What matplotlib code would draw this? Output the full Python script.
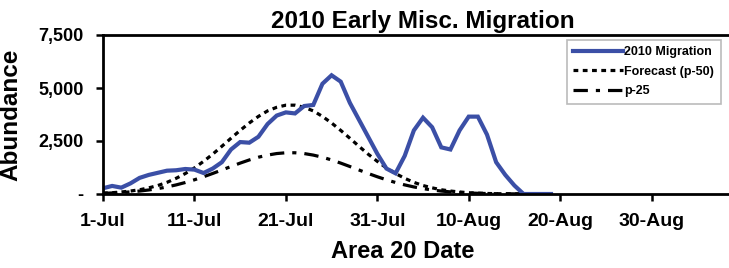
import numpy as np
import matplotlib
matplotlib.use("Agg")
from matplotlib import pyplot as plt

plt.rcParams['font.family'] = ['Liberation Sans', 'DejaVu Sans']
plt.rcParams['font.weight'] = 'bold'

# days since 1-Jul
days = list(range(0, 50))

migration_2010 = [270, 380, 300, 500, 760, 900, 1000, 1100, 1120, 1180,
                  1150, 990, 1200, 1500, 2100, 2450, 2420, 2700, 3300, 3700,
                  3850, 3800, 4150, 4200, 5200, 5600, 5300, 4300, 3500, 2700,
                  1900, 1200, 975, 1800, 3000, 3600, 3150, 2200, 2100, 3000,
                  3650, 3650, 2800, 1500, 900, 400, 0, 0, 0, 0]

forecast_p50 = [40, 60, 95, 140, 200, 290, 400, 550, 740, 965,
                1230, 1540, 1880, 2250, 2630, 3000, 3350, 3660, 3920, 4090,
                4190, 4190, 4090, 3920, 3660, 3350, 3000, 2630, 2250, 1880,
                1540, 1230, 965, 740, 550, 400, 290, 200, 140, 95,
                60, 40, 25, 15, 9, 5, 3, 2, 1, 0]

forecast_p25 = [33, 49, 70, 100, 139, 190, 254, 333, 429, 542,
                670, 814, 969, 1132, 1297, 1457, 1606, 1735, 1835, 1908,
                1945, 1945, 1908, 1835, 1735, 1606, 1457, 1297, 1132, 969,
                814, 670, 542, 429, 333, 254, 190, 139, 100, 70,
                49, 33, 22, 14, 9, 6, 4, 2, 1, 1]

xtick_pos = [0, 10, 20, 30, 40, 50, 60]
xtick_labels = ['1-Jul', '11-Jul', '21-Jul', '31-Jul', '10-Aug', '20-Aug', '30-Aug']
ytick_pos = [0, 2500, 5000, 7500]
ytick_labels = ['-', '2,500', '5,000', '7,500']

fig = plt.figure(figsize=(7.29, 2.68), dpi=100)
ax = fig.add_axes([103 / 729, 74 / 268, 640 / 729, 159 / 268])

ax.plot(days, forecast_p50, color='black', lw=2.3, dashes=(1.5, 1.4),
        label='Forecast (p-50)')
ax.plot(days, forecast_p25, color='black', lw=2.3, dashes=(4.5, 2.5, 1.3, 2.5),
        label='p-25')
ax.plot(days, migration_2010, color='#3B4FA6', lw=3, label='2010 Migration',
        solid_joinstyle='miter')

ax.set_xlim(0, 70)
ax.set_ylim(0, 7500)
ax.set_xticks(xtick_pos)
ax.set_xticklabels(xtick_labels)
ax.set_yticks(ytick_pos)
ax.set_yticklabels(ytick_labels)
ax.tick_params(axis='both', width=1.8, length=5, direction='out')
ax.tick_params(axis='x', labelsize=14, pad=9)
ax.tick_params(axis='y', labelsize=13, pad=9)

for s in ax.spines.values():
    s.set_linewidth(2)

ax.set_title('2010 Early Misc. Migration', fontsize=17.5, fontweight='bold', pad=5)
ax.set_ylabel('Abundance', fontsize=17.5, fontweight='bold')
ax.yaxis.set_label_coords(-(103 - 22) / 640, 0.5)
ax.set_xlabel('Area 20 Date', fontsize=17, fontweight='bold', va='top')
ax.xaxis.set_label_coords((403 - 103) / 640, -(240 - 194) / 159)

h, l = ax.get_legend_handles_labels()
order = [2, 0, 1]
leg = ax.legend([h[i] for i in order], [l[i] for i in order],
                loc='upper left', bbox_to_anchor=((567 - 103) / 640, 1 - 5 / 159),
                borderaxespad=0, fontsize=9, handlelength=4.0, handletextpad=0.1,
                fancybox=False, edgecolor='#BBBBBB', framealpha=1,
                borderpad=0.5, labelspacing=0.6)
leg.get_frame().set_linewidth(1.2)

fig.savefig('out.png', dpi=100)
